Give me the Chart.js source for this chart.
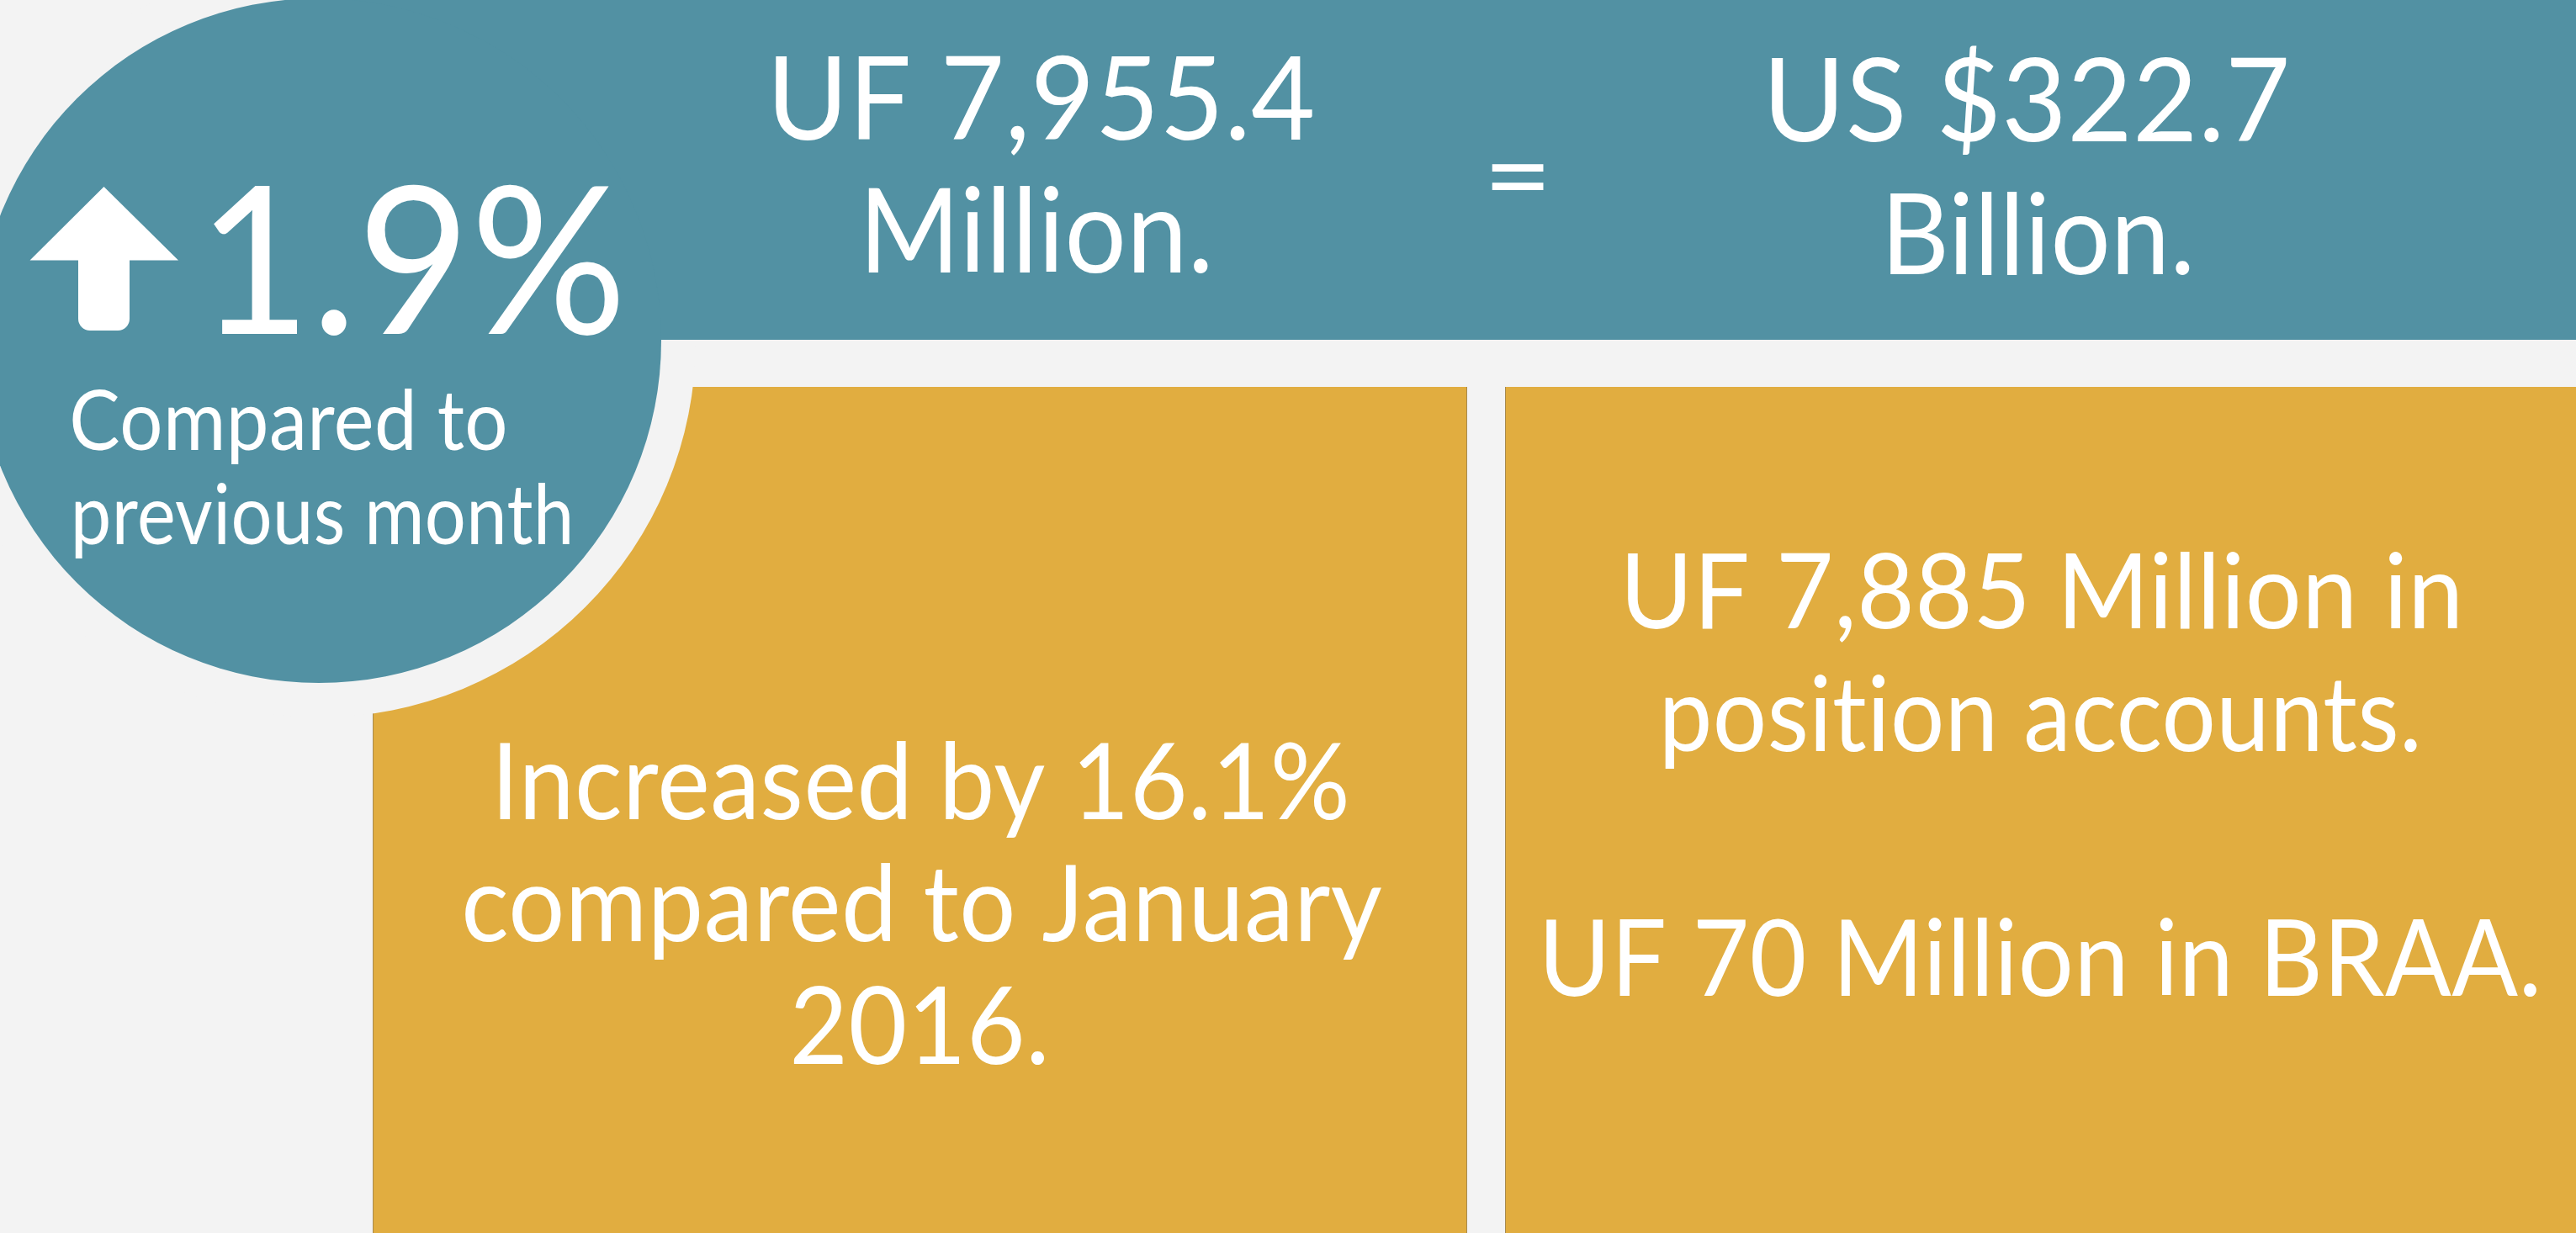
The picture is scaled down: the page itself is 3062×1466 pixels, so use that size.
<!DOCTYPE html>
<html>
<head>
<meta charset="utf-8">
<script src="https://cdn.jsdelivr.net/npm/chart.js@4/dist/chart.umd.min.js"></script>
<style>
  html, body { margin: 0; padding: 0; background: #f3f3f3; overflow: hidden; }
  #wrap { position: relative; width: 3062px; height: 1466px; }
  canvas { font-variant-ligatures: none; }
</style>
</head>
<body>
<div id="wrap"><canvas id="c"></canvas></div>
<script>
// ---------- data (text content of the infographic) ----------
const monthlyChange  = ['1.9%'];
const monthlyCaption = ['Compared to', 'previous month'];
const ufTotal        = ['UF 7,955.4', 'Million.'];
const equalsSign     = ['='];
const usdTotal       = ['US $322.7', 'Billion.'];
const yearlyChange   = ['Increased by 16.1%', 'compared to January', '2016.'];
const positionSplit  = ['UF 7,885 Million in', 'position accounts.'];
const braaSplit      = ['UF 70 Million in BRAA.'];

// ---------- layout & style (page units, 3062 x 1466) ----------
const W = 3062, H = 1466;
const COLORS = { bg: '#f3f3f3', teal: '#5291a3', gold: '#e1ad40', text: '#ffffff', edge: 'rgba(120,110,90,0.55)' };
const FONT = 'Lato, "Open Sans", sans-serif';

const shapes = {
  circle:  { cx: 379, cy: 405, r: 407 },
  gap:     { r: 448 },
  banner:  { x0: 379, x1: 3062, y0: 0, y1: 404 },
  goldL:   { x0: 443, x1: 1744, y0: 460, y1: 1466 },
  goldR:   { x0: 1789, x1: 3062, y0: 460, y1: 1466 },
  arrow:   { tipX: 123.5, tipY: 222, baseY: 309.5, headL: 35.5, headR: 212, shaftL: 93, shaftR: 154, bottom: 393, rad: 14 }
};

const textLayout = [
  { src: monthlyChange,  i: 0, x0: 254,  x1: 735,  base: 397,  cap: 179 },
  { src: monthlyCaption, i: 0, x0: 86,   x1: 600,  base: 535,  cap: 72 },
  { src: monthlyCaption, i: 1, x0: 89,   x1: 677,  base: 647,  cap: 72 },
  { src: ufTotal,        i: 0, x0: 922,  x1: 1560, base: 166,  cap: 100 },
  { src: ufTotal,        i: 1, x0: 1032, x1: 1436, base: 324,  cap: 102 },
  { src: equalsSign,     i: 0, x0: 1773, x1: 1835, top: 196, bottom: 227, ink: true },
  { src: usdTotal,       i: 0, x0: 2106, x1: 2718, base: 168,  cap: 100 },
  { src: usdTotal,       i: 1, x0: 2247, x1: 2603, base: 326,  cap: 98 },
  { src: yearlyChange,   i: 0, x0: 594,  x1: 1600, base: 974,  cap: 92 },
  { src: yearlyChange,   i: 1, x0: 553,  x1: 1642, base: 1119, cap: 92 },
  { src: yearlyChange,   i: 2, x0: 943,  x1: 1241, base: 1265, cap: 93 },
  { src: positionSplit,  i: 0, x0: 1935, x1: 2921, base: 747,  cap: 91 },
  { src: positionSplit,  i: 1, x0: 1979, x1: 2873, base: 893,  cap: 91 },
  { src: braaSplit,      i: 0, x0: 1838, x1: 3015, base: 1184, cap: 92 }
];

// ---------- drawing plugin ----------
const infographic = {
  id: 'infographic',
  beforeDatasetsDraw(chart) {
    const ctx = chart.ctx, xs = chart.scales.x, ys = chart.scales.y;
    const X = v => xs.getPixelForValue(v), Y = v => ys.getPixelForValue(v);
    const R = r => Math.abs(X(r) - X(0));
    ctx.save();
    ctx.fillStyle = COLORS.bg;
    ctx.fillRect(X(0), Y(0), X(W) - X(0), Y(H) - Y(0));
    [shapes.goldL, shapes.goldR].forEach(b => {
      ctx.fillStyle = COLORS.gold;
      ctx.fillRect(X(b.x0), Y(b.y0), X(b.x1) - X(b.x0), Y(b.y1) - Y(b.y0));
      ctx.strokeStyle = COLORS.edge; ctx.lineWidth = 1;
      ctx.beginPath();
      ctx.moveTo(X(b.x0) + 0.5, Y(b.y0)); ctx.lineTo(X(b.x0) + 0.5, Y(b.y1));
      if (b.x1 < W) { ctx.moveTo(X(b.x1) - 0.5, Y(b.y0)); ctx.lineTo(X(b.x1) - 0.5, Y(b.y1)); }
      ctx.stroke();
    });
    const c = shapes.circle;
    ctx.fillStyle = COLORS.bg;
    ctx.beginPath(); ctx.arc(X(c.cx), Y(c.cy), R(shapes.gap.r), 0, Math.PI * 2); ctx.fill();
    const bn = shapes.banner;
    ctx.fillStyle = COLORS.teal;
    ctx.fillRect(X(bn.x0), Y(bn.y0), X(bn.x1) - X(bn.x0), Y(bn.y1) - Y(bn.y0));
    ctx.beginPath(); ctx.arc(X(c.cx), Y(c.cy), R(c.r), 0, Math.PI * 2); ctx.fill();
    const a = shapes.arrow;
    ctx.fillStyle = COLORS.text;
    ctx.beginPath();
    ctx.moveTo(X(a.tipX), Y(a.tipY));
    ctx.lineTo(X(a.headR), Y(a.baseY));
    ctx.lineTo(X(a.shaftR), Y(a.baseY));
    ctx.arcTo(X(a.shaftR), Y(a.bottom), X(a.shaftL), Y(a.bottom), R(a.rad));
    ctx.arcTo(X(a.shaftL), Y(a.bottom), X(a.shaftL), Y(a.baseY), R(a.rad));
    ctx.lineTo(X(a.shaftL), Y(a.baseY));
    ctx.lineTo(X(a.headL), Y(a.baseY));
    ctx.closePath();
    ctx.fill();
    ctx.restore();
  },
  afterDatasetsDraw(chart) {
    const ctx = chart.ctx, xs = chart.scales.x, ys = chart.scales.y;
    const X = v => xs.getPixelForValue(v), Y = v => ys.getPixelForValue(v);
    ctx.save();
    ctx.fillStyle = COLORS.text;
    ctx.textAlign = 'left';
    ctx.textBaseline = 'alphabetic';
    if ('letterSpacing' in ctx) ctx.letterSpacing = '0.5px';   // also turns off ligatures (e.g. "ti")
    ctx.font = `400 100px ${FONT}`;
    const capRatio = ctx.measureText('H').actualBoundingBoxAscent / 100;
    textLayout.forEach(t => {
      const text = t.src[t.i];
      const px0 = X(t.x0), px1 = X(t.x1);
      if (t.ink) {
        ctx.font = `400 100px ${FONT}`;
        const m = ctx.measureText(text);
        const iw = m.actualBoundingBoxLeft + m.actualBoundingBoxRight;
        const ih = m.actualBoundingBoxAscent + m.actualBoundingBoxDescent;
        const pt = Y(t.top), pbm = Y(t.bottom);
        ctx.save();
        ctx.translate(px0, pt);
        ctx.scale((px1 - px0) / iw, (pbm - pt) / ih);
        ctx.fillText(text, m.actualBoundingBoxLeft, m.actualBoundingBoxAscent);
        ctx.restore();
      } else {
        const pb = Y(t.base);
        const capPx = Math.abs(Y(t.base - t.cap) - pb);
        const size = capPx / capRatio;
        ctx.font = `400 ${size}px ${FONT}`;
        const m = ctx.measureText(text);
        const iw = m.actualBoundingBoxLeft + m.actualBoundingBoxRight;
        ctx.save();
        ctx.translate(px0, pb);
        ctx.scale((px1 - px0) / iw, 1);
        ctx.fillText(text, m.actualBoundingBoxLeft, 0);
        ctx.restore();
      }
    });
    ctx.restore();
  }
};

function build() {
  new Chart(document.getElementById('c'), {
    type: 'scatter',
    data: { datasets: [{ data: [], pointRadius: 0 }] },
    options: {
      responsive: true,
      maintainAspectRatio: false,
      animation: false,
      events: [],
      layout: { padding: 0 },
      plugins: { legend: { display: false }, tooltip: { enabled: false }, title: { display: false } },
      scales: {
        x: { type: 'linear', min: 0, max: W, display: false },
        y: { type: 'linear', min: 0, max: H, reverse: true, display: false }
      }
    },
    plugins: [infographic]
  });
}
if (document.fonts && document.fonts.load) {
  document.fonts.load(`400 100px Lato`).then(build, build);
} else { build(); }
</script>
</body>
</html>
